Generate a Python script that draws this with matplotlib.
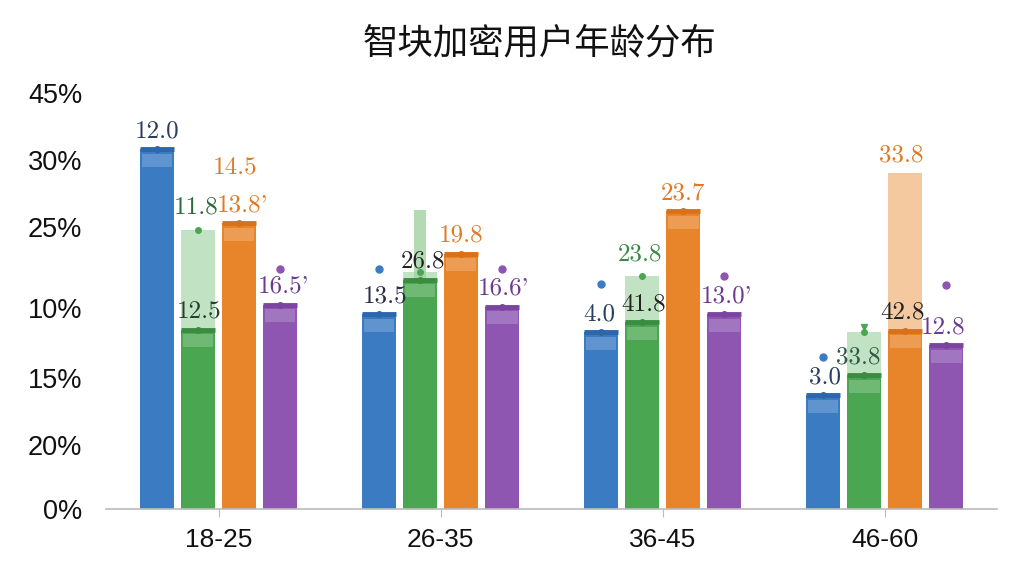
import matplotlib.pyplot as plt
import numpy as np

plt.rcParams['font.family'] = ['Liberation Sans', 'DejaVu Sans']

groups = ['18-25', '26-35', '36-45', '46-60']

# solid bar heights (in axis units, 0..45)
blue = [38.9, 21.1, 19.1, 12.3]
green = [19.4, 24.8, 20.2, 14.5]
orange = [30.9, 27.6, 32.2, 19.3]
purple = [22.1, 21.9, 21.1, 17.7]

# pale bars drawn behind the solid ones
green_ghost = [30.2, 25.6, 25.2, 19.1]
green_spike = [0, 32.3, 0, 0]
orange_ghost = [0, 0, 0, 36.3]

blue_labels = ['12.0', '13.5', '4.0', '3.0']
green_labels = ['12.5', '26.8', '41.8', '33.8']
orange_labels = ["13.8'", '19.8', '23.7', '42.8']
purple_labels = ["16.5'", "16.6'", "13.0'", '12.8']
green_ghost_labels = ['11.8', '', '23.8', '']
orange_ghost_labels = ['14.5', '', '', '33.8']

# stray dots floating above some bars
blue_dots = [np.nan, 26.0, 24.3, 16.4]
green_dots = [np.nan, np.nan, np.nan, 19.7]
purple_dots = [26.0, 26.0, 25.2, 24.2]

ytick_pos = [0, 6.9, 14.2, 21.7, 30.5, 37.8, 45]
ytick_labels = ['0%', '20%', '15%', '10%', '25%', '30%', '45%']

fig = plt.figure(figsize=(10.24, 5.76), dpi=100)
ax = fig.add_axes([0.1035, 0.1163, 0.8701, 0.7222])

x = np.arange(len(groups))
w = 0.153
step = 0.185
offs = [-1.5 * step, -0.5 * step, 0.5 * step, 1.5 * step]

series = [
    (blue, '#3a7bc2', '#2c66ad', '#a9c5e6', blue_labels),
    (green, '#4aa650', '#3a8d40', '#b8deb9', green_labels),
    (orange, '#e8842a', '#d8711a', '#f4c9a0', orange_labels),
    (purple, '#8e55b1', '#7a44a0', '#c9b2de', purple_labels),
]
label_colors = [
    ['#2b3d5c', '#2c2c48', '#2b3d5c', '#2b3d5c'],
    ['#26412f', '#222222', '#222222', '#2d5a45'],
    ['#e07a22', '#e07a22', '#e07a22', '#222222'],
    ['#6b3b8e', '#6b3b8e', '#6b3b8e', '#6b3b8e'],
]
label_dx = [[0, 6, -2, 2], [1, 3, 1, -6], [3, 0, 0, -3], [3, 1, 2, -3]]
lab_font = dict(fontsize=18, family='cmr10', ha='center', va='center', zorder=5)

# pale bars
ax.bar(x + offs[1], green_ghost, width=w, color='#b8deb9', alpha=0.85, zorder=1)
ax.bar(x + offs[1], green_spike, width=w * 0.35, color='#9fd2a2', alpha=0.8, zorder=1)
ax.bar(x + offs[2], orange_ghost, width=w, color='#f4c9a0', zorder=1)
ax.plot(x + offs[1], np.where(np.array(green_ghost) > 0, green_ghost, np.nan), 'o',
        color='#4aa650', ms=4, zorder=3)

for s, (vals, col, dark, light, labs) in enumerate(series):
    xs = x + offs[s]
    ax.bar(xs, vals, width=w, color=col, zorder=2)
    # lighter roof just under the cap
    ax.bar(xs, [1.4] * 4, bottom=np.array(vals) - 1.9, width=w * 0.9,
           color=light, alpha=0.35, zorder=2)
    ax.hlines(vals, xs - w / 2, xs + w / 2, color=dark, lw=3.5, zorder=3)
    ax.plot(xs, vals, 'o', color=dark, ms=4, zorder=4)
    for i, t in enumerate(labs):
        ax.annotate(t, (xs[i], vals[i]), xytext=(label_dx[s][i], 18),
                    textcoords='offset pixels', color=label_colors[s][i], **lab_font)

for i, t in enumerate(green_ghost_labels):
    if t:
        ax.annotate(t, (x[i] + offs[1], green_ghost[i]), xytext=(-2, 22),
                    textcoords='offset pixels',
                    color='#2e6b3a' if i == 0 else '#3a8a45', **lab_font)
for i, t in enumerate(orange_ghost_labels):
    if t:
        top = max(orange_ghost[i], orange[i])
        ax.annotate(t, (x[i] + offs[2], top), xytext=(-4, 56 if i == 0 else 18),
                    textcoords='offset pixels', color='#e07a22', **lab_font)

ax.plot(x + offs[0], blue_dots, 'o', color='#3a7bc2', ms=5, zorder=4)
ax.plot(x + offs[1], green_dots, 'v', color='#4aa650', ms=4, zorder=4)
ax.plot(x + offs[3], purple_dots, 'o', color='#8e55b1', ms=5, zorder=4)

ax.set_xlim(-0.507, 3.505)
ax.set_ylim(0, 45)
ax.set_xticks(x)
ax.set_xticklabels(groups, fontsize=19)
ax.set_yticks(ytick_pos)
ax.set_yticklabels(ytick_labels, fontsize=19.5)
ax.tick_params(axis='y', length=0, pad=17, colors='#111111')
ax.tick_params(axis='x', length=6, pad=8, color='#bbbbbb', labelcolor='#111111')
for side in ['top', 'right', 'left']:
    ax.spines[side].set_visible(False)
ax.spines['bottom'].set_color('#bbbbbb')
ax.spines['bottom'].set_linewidth(1.2)

fig.text(0.527, 0.924, '智块加密用户年龄分布', ha='center', va='center',
         fontsize=25.5, family=['Noto Sans CJK SC', 'DejaVu Sans'], color='#111111')

fig.savefig('out.png', dpi=100, facecolor='white')
